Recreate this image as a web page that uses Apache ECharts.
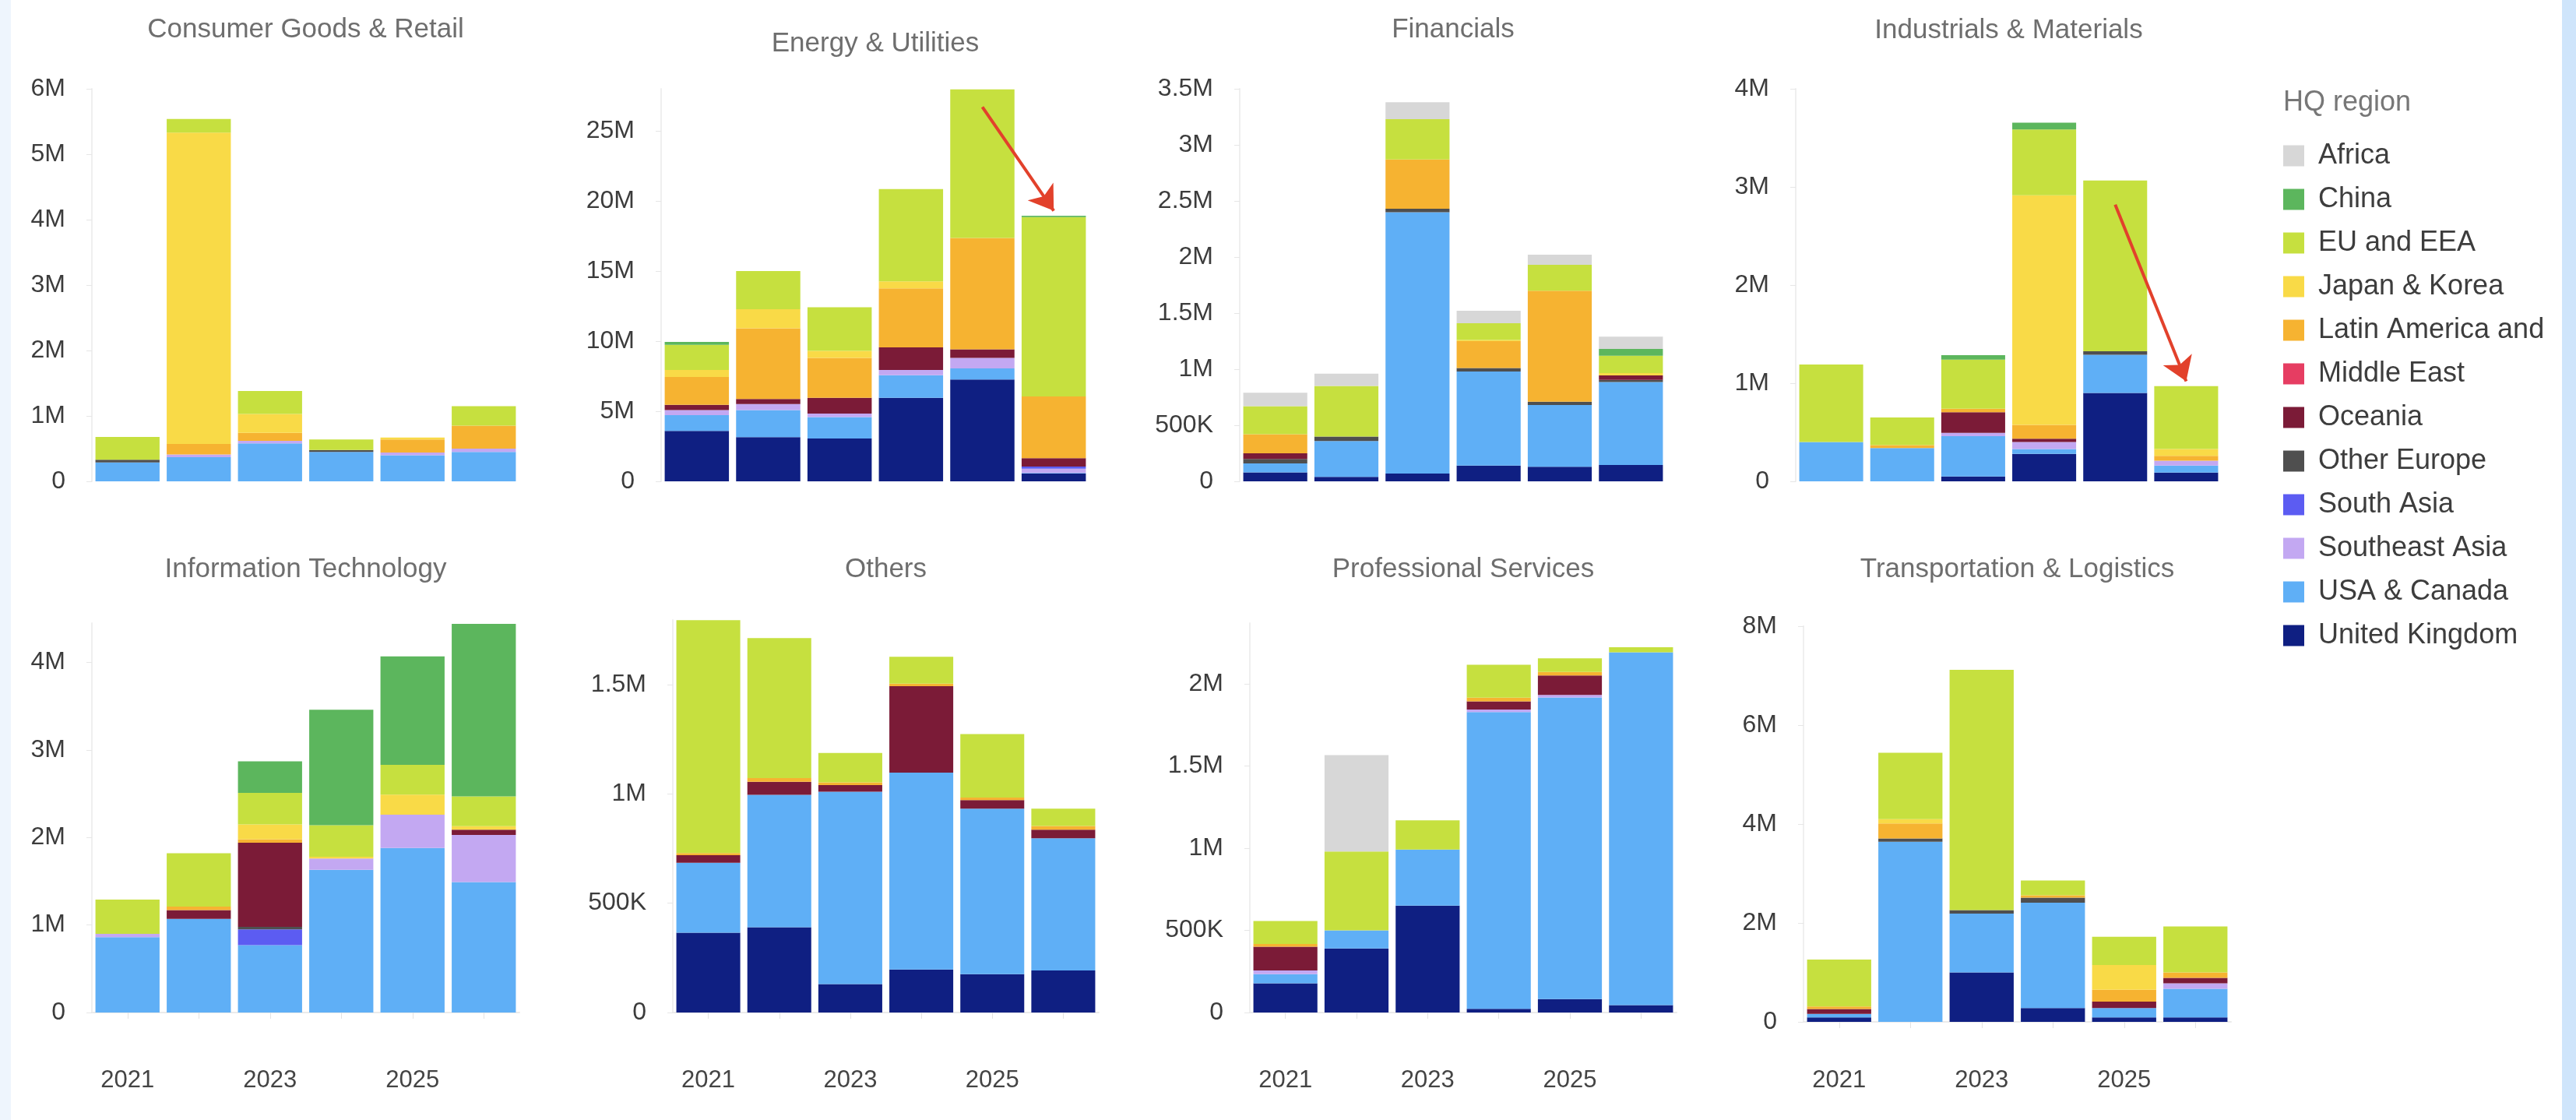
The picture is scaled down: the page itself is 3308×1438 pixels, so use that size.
<!DOCTYPE html>
<html>
<head>
<meta charset="utf-8">
<title>Deal value by sector and HQ region</title>
<script src="https://cdn.jsdelivr.net/npm/echarts/dist/echarts.min.js"></script>
<style>
  html, body { margin: 0; padding: 0; background: #ffffff; }
  #chart { position: absolute; left: 0; top: 0; width: 3308px; height: 1438px; }
  .edge { position: absolute; top: 0; height: 1438px; }
</style>
</head>
<body>
<div id="chart"></div>
<div class="edge" style="left:0;width:14px;background:#eef5fd"></div>
<div class="edge" style="left:3290px;width:18px;background:#cfe5fb"></div>
<script>
var years = ['2021', '2022', '2023', '2024', '2025', '2026'];

// legend order (top of the stack first)
var regions = ['Africa', 'China', 'EU and EEA', 'Japan & Korea', 'Latin America and Caribbean',
    'Middle East', 'Oceania', 'Other Europe', 'South Asia', 'Southeast Asia', 'USA & Canada', 'United Kingdom'];
var regionColors = ['#d7d7d7', '#5cb65d', '#c6e03f', '#f9da47', '#f6b331',
    '#e63d62', '#7b1b37', '#4f4f4f', '#5c5cf2', '#c3a8f2', '#5faff6', '#0f1f82'];

// each panel: one row per region (same order as regions), one value per year, in millions
var consumerGoods = [
    [0, 0, 0, 0, 0, 0],
    [0, 0, 0, 0, 0, 0],
    [0.35, 0.21, 0.35, 0.16, 0, 0.30],
    [0, 4.76, 0.29, 0, 0.03, 0],
    [0, 0.16, 0.12, 0, 0.20, 0.35],
    [0, 0, 0, 0, 0, 0],
    [0, 0, 0, 0, 0, 0],
    [0.04, 0, 0, 0.03, 0, 0],
    [0, 0, 0, 0, 0, 0],
    [0, 0.04, 0.04, 0, 0.04, 0.05],
    [0.29, 0.37, 0.58, 0.45, 0.40, 0.45],
    [0, 0, 0, 0, 0, 0]
];
var energy = [
    [0, 0, 0, 0, 0, 0],
    [0.2, 0, 0, 0, 0, 0.1],
    [1.79, 2.72, 3.1, 6.58, 10.6, 12.8],
    [0.5, 1.36, 0.5, 0.5, 0, 0],
    [1.99, 5.04, 2.85, 4.22, 7.94, 4.4],
    [0, 0, 0, 0, 0, 0],
    [0.37, 0.37, 1.12, 1.61, 0.62, 0.6],
    [0, 0, 0, 0, 0, 0],
    [0, 0, 0, 0, 0, 0.15],
    [0.37, 0.42, 0.25, 0.37, 0.74, 0.3],
    [1.12, 1.94, 1.54, 1.61, 0.79, 0.05],
    [3.6, 3.15, 3.05, 5.96, 7.27, 0.55]
];
var financials = [
    [0.12, 0.11, 0.15, 0.11, 0.09, 0.11],
    [0, 0, 0, 0, 0, 0.06],
    [0.25, 0.45, 0.36, 0.15, 0.23, 0.155],
    [0, 0, 0, 0.01, 0, 0.02],
    [0.17, 0, 0.44, 0.24, 0.99, 0],
    [0, 0, 0, 0, 0, 0],
    [0.05, 0, 0, 0, 0, 0.04],
    [0.04, 0.04, 0.03, 0.03, 0.03, 0.02],
    [0, 0, 0, 0, 0, 0],
    [0, 0, 0, 0, 0, 0],
    [0.08, 0.32, 2.33, 0.84, 0.55, 0.74],
    [0.08, 0.04, 0.07, 0.14, 0.13, 0.145]
];
var industrials = [
    [0, 0, 0, 0, 0, 0],
    [0, 0, 0.045, 0.07, 0, 0],
    [0.79, 0.28, 0.5, 0.67, 1.74, 0.64],
    [0, 0, 0, 2.34, 0, 0.07],
    [0, 0.03, 0.035, 0.14, 0, 0.05],
    [0, 0, 0, 0, 0, 0],
    [0, 0, 0.21, 0.035, 0, 0],
    [0, 0, 0, 0, 0.035, 0],
    [0, 0, 0, 0, 0, 0],
    [0, 0, 0.035, 0.07, 0, 0.05],
    [0.40, 0.34, 0.41, 0.05, 0.39, 0.07],
    [0, 0, 0.05, 0.28, 0.9, 0.09]
];
var infoTech = [
    [0, 0, 0, 0, 0, 0],
    [0, 0, 0.36, 1.32, 1.24, 1.97],
    [0.39, 0.61, 0.36, 0.36, 0.34, 0.34],
    [0, 0, 0.17, 0.02, 0.23, 0.04],
    [0, 0.04, 0.04, 0, 0, 0],
    [0, 0, 0, 0, 0, 0],
    [0, 0.1, 0.96, 0, 0, 0.06],
    [0, 0, 0.03, 0, 0, 0],
    [0, 0, 0.18, 0, 0, 0],
    [0.04, 0, 0, 0.13, 0.38, 0.54],
    [0.86, 1.07, 0.77, 1.63, 1.88, 1.49],
    [0, 0, 0, 0, 0, 0]
];
var others = [
    [0, 0, 0, 0, 0, 0],
    [0, 0, 0, 0, 0, 0],
    [1.065, 0.64, 0.135, 0.123, 0.29, 0.079],
    [0, 0, 0, 0, 0, 0],
    [0.01, 0.017, 0.012, 0.012, 0.012, 0.017],
    [0, 0, 0, 0, 0, 0],
    [0.034, 0.06, 0.03, 0.395, 0.039, 0.039],
    [0, 0, 0, 0, 0, 0],
    [0, 0, 0, 0, 0, 0],
    [0, 0, 0, 0, 0, 0],
    [0.32, 0.605, 0.88, 0.9, 0.757, 0.605],
    [0.365, 0.39, 0.13, 0.197, 0.175, 0.192]
];
var professional = [
    [0, 0.586, 0, 0, 0, 0],
    [0, 0, 0, 0, 0, 0],
    [0.14, 0.48, 0.178, 0.2, 0.082, 0.031],
    [0, 0, 0, 0, 0, 0],
    [0.016, 0, 0, 0.022, 0.022, 0],
    [0, 0, 0, 0, 0, 0],
    [0.145, 0, 0, 0.05, 0.118, 0],
    [0, 0, 0, 0, 0, 0],
    [0, 0, 0, 0, 0, 0],
    [0.022, 0, 0, 0.016, 0.016, 0],
    [0.056, 0.11, 0.341, 1.806, 1.835, 2.147],
    [0.178, 0.39, 0.651, 0.022, 0.082, 0.045]
];
var transport = [
    [0, 0, 0, 0, 0, 0],
    [0, 0, 0, 0, 0, 0],
    [0.95, 1.34, 4.86, 0.3, 0.57, 0.93],
    [0, 0.09, 0, 0, 0.5, 0],
    [0.05, 0.3, 0, 0.05, 0.24, 0.11],
    [0, 0, 0, 0, 0, 0],
    [0.1, 0, 0, 0, 0.13, 0.11],
    [0, 0.07, 0.07, 0.1, 0, 0],
    [0, 0, 0, 0, 0, 0],
    [0, 0, 0, 0, 0, 0.11],
    [0.07, 3.64, 1.19, 2.13, 0.19, 0.58],
    [0.09, 0, 1.0, 0.28, 0.09, 0.09]
];

var panelTitles = ['Consumer Goods & Retail', 'Energy & Utilities', 'Financials', 'Industrials & Materials',
    'Information Technology', 'Others', 'Professional Services', 'Transportation & Logistics'];
var panelData = [consumerGoods, energy, financials, industrials, infoTech, others, professional, transport];
var panelMax = [6, 28, 3.5, 4, 4.45, 1.795, 2.37, 8];
var panelStep = [1, 5, 0.5, 1, 1, 0.5, 0.5, 2];

// red annotation arrows: [from, to] as [year, value in millions]
var energyArrow = [['2025', 26.7], ['2026', 19.3]];
var industrialsArrow = [['2025', 2.82], ['2026', 1.02]];

// layout
var boxes = [
    {left: 118, top: 114, width: 549, height: 504},
    {left: 849, top: 114, width: 550, height: 504},
    {left: 1592, top: 114, width: 548, height: 504},
    {left: 2306, top: 114, width: 547, height: 504},
    {left: 118, top: 800, width: 549, height: 500},
    {left: 864, top: 796, width: 547, height: 504},
    {left: 1605, top: 800, width: 548, height: 500},
    {left: 2316, top: 804, width: 549, height: 508}
];
var titleTops = [21, 39, 21, 22, 714, 714, 714, 714];
var xOffsets = [0, 0, 0, 0, 31, 31, 31, 19];

var FONT = '"Liberation Sans", Arial, Helvetica, sans-serif';

function fmtValue(v) {
    if (v === 0) return '0';
    if (v >= 1) return parseFloat(v.toFixed(2)) + 'M';
    return Math.round(v * 1000) + 'K';
}

var grids = [], xAxes = [], yAxes = [], titles = [], series = [];

boxes.forEach(function (b, i) {
    var bottomRow = i >= 4;
    grids.push({left: b.left, top: b.top, width: b.width, height: b.height});
    titles.push({
        text: panelTitles[i],
        left: b.left + b.width / 2,
        top: titleTops[i],
        textAlign: 'center',
        padding: 0,
        textStyle: {fontFamily: FONT, fontSize: 35, fontWeight: 'normal', color: '#6e6e6e'}
    });
    xAxes.push({
        type: 'category',
        gridIndex: i,
        data: years,
        show: bottomRow,
        offset: xOffsets[i],
        axisLine: {show: true, lineStyle: {color: '#ebebeb', width: 2}},
        axisTick: {show: true, alignWithLabel: true, interval: 0, length: 8, lineStyle: {color: '#e3e3e3'}},
        axisLabel: {interval: 1, margin: 41, fontFamily: FONT, fontSize: 31, color: '#444444'}
    });
    var maxIsTick = Math.abs(panelMax[i] / panelStep[i] - Math.round(panelMax[i] / panelStep[i])) < 1e-6;
    yAxes.push({
        type: 'value',
        gridIndex: i,
        min: 0,
        max: panelMax[i],
        interval: panelStep[i],
        axisLine: {show: true, lineStyle: {color: '#efefef', width: 2}},
        axisTick: {show: true, length: 7, lineStyle: {color: '#e6e6e6'}},
        splitLine: {show: false},
        axisLabel: {
            margin: 34,
            showMaxLabel: maxIsTick,
            fontFamily: FONT,
            fontSize: 32,
            color: '#3c3c3c',
            formatter: fmtValue
        }
    });
    // stack from the bottom: United Kingdom first, Africa last
    for (var r = regions.length - 1; r >= 0; r--) {
        series.push({
            type: 'bar',
            name: regions[r],
            stack: 'panel' + i,
            xAxisIndex: i,
            yAxisIndex: i,
            barCategoryGap: '10%',
            itemStyle: {color: regionColors[r]},
            data: panelData[i][r]
        });
    }
});

function arrowLine(coords) {
    return {
        silent: true,
        symbol: ['none', 'arrow'],
        symbolSize: 30,
        label: {show: false},
        lineStyle: {color: '#e2412b', width: 4, type: 'solid'},
        data: [[{coord: coords[0]}, {coord: coords[1]}]]
    };
}
// attach arrows to the top series of the Energy and Industrials panels
series[1 * regions.length + regions.length - 1].markLine = arrowLine(energyArrow);
series[3 * regions.length + regions.length - 1].markLine = arrowLine(industrialsArrow);

titles.push({
    text: 'HQ region',
    left: 2932,
    top: 114,
    padding: 0,
    textStyle: {fontFamily: FONT, fontSize: 36, fontWeight: 'normal', color: '#777777'}
});

var chart = echarts.init(document.getElementById('chart'), null, {renderer: 'canvas'});
chart.setOption({
    animation: false,
    backgroundColor: '#ffffff',
    title: titles,
    legend: {
        data: regions,
        orient: 'vertical',
        left: 2932,
        top: 182,
        padding: 0,
        icon: 'rect',
        itemWidth: 27,
        itemHeight: 27,
        itemGap: 20,
        selectedMode: false,
        textStyle: {
            fontFamily: FONT,
            fontSize: 36,
            lineHeight: 36,
            color: '#3d3d3d',
            padding: [0, 0, 0, 13],
            width: 300,
            overflow: 'truncate',
            ellipsis: ''
        }
    },
    grid: grids,
    xAxis: xAxes,
    yAxis: yAxes,
    series: series
});
</script>
</body>
</html>
